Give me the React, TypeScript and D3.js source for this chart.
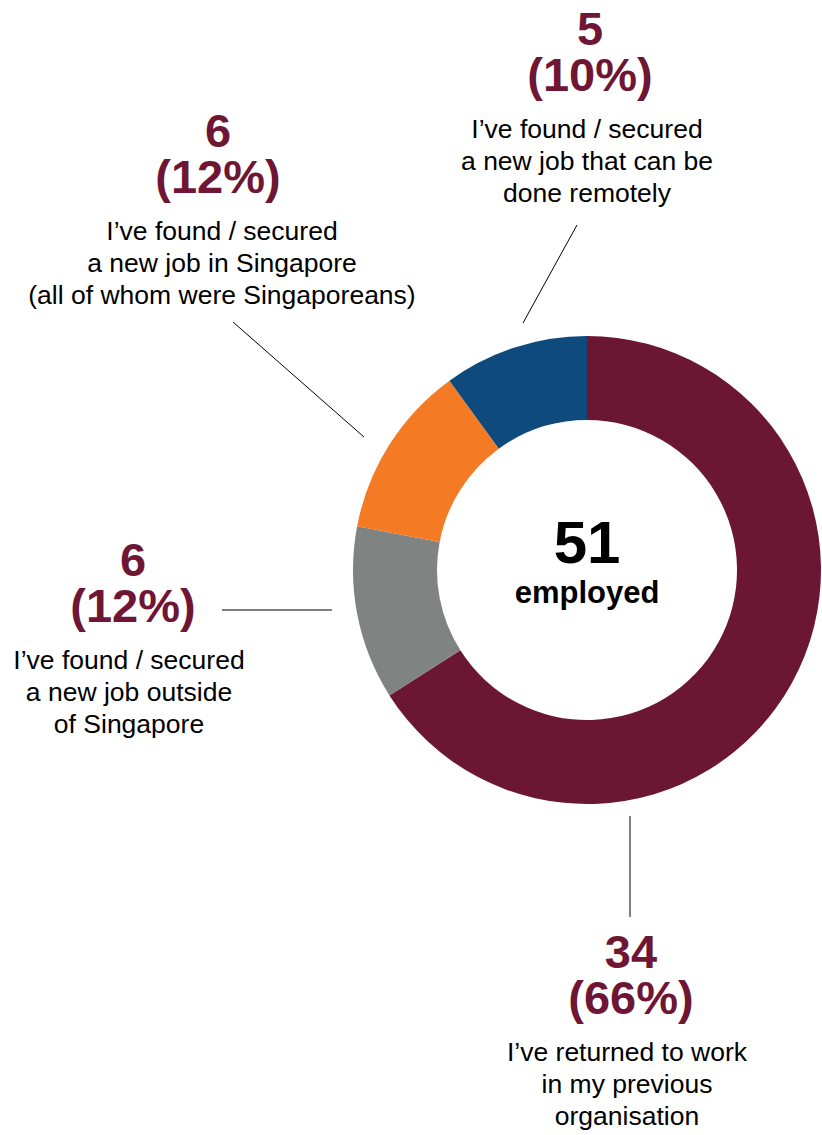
import React from "react";
import * as d3 from "d3";

const categories = [
  "I’ve returned to work in my previous organisation",
  "I’ve found / secured a new job outside of Singapore",
  "I’ve found / secured a new job in Singapore (all of whom were Singaporeans)",
  "I’ve found / secured a new job that can be done remotely",
];
const counts = [34, 6, 6, 5];
const percents = [66, 12, 12, 10];
const labelLines = [
  ["I’ve returned to work", "in my previous", "organisation"],
  ["I’ve found / secured", "a new job outside", "of Singapore"],
  ["I’ve found / secured", "a new job in Singapore", "(all of whom were Singaporeans)"],
  ["I’ve found / secured", "a new job that can be", "done remotely"],
];
const totalLabel = "51";
const totalSub = "employed";

const colors = ["#6B1733", "#7F8482", "#F47B24", "#0F4A7D"];
const numColor = "#6E1634";
const FONT = "'Liberation Sans', Arial, Helvetica, sans-serif";

// layout (positions of label blocks and leader lines)
const layout = [
  { nx: 631, tx: 627, y0: 968, line: [[630, 816], [630, 917]] },
  { nx: 133, tx: 129, y0: 576, line: [[222, 610], [332, 610]] },
  { nx: 218, tx: 222, y0: 147, line: [[233, 322], [364, 437]] },
  { nx: 590, tx: 587, y0: 45, line: [[577, 225], [523, 323]] },
];

export default function App() {
  const W = 822, H = 1135;
  const cx = 587, cy = 570, rOuter = 234, rInner = 150;
  const pie = d3.pie<number>().sort(null).value((d) => d);
  const arcs = pie(percents);
  const arc = d3.arc<d3.PieArcDatum<number>>().innerRadius(rInner).outerRadius(rOuter);

  return (
    <div style={{ position: "absolute", left: 0, top: 0 }}>
      <svg width={W} height={H} style={{ display: "block", background: "#fff" }} fontFamily={FONT}>
        <g transform={`translate(${cx},${cy})`}>
          {arcs.map((a, i) => (
            <path key={i} d={arc(a) || ""} fill={colors[i]}>
              <title>{categories[i]}</title>
            </path>
          ))}
          <text x={0} y={-7} textAnchor="middle" fontSize={60} fontWeight="bold" fill="#000">{totalLabel}</text>
          <text x={0} y={33} textAnchor="middle" fontSize={31} fontWeight="bold" fill="#000">{totalSub}</text>
        </g>
        {layout.map((L, i) => (
          <g key={i}>
            <line x1={L.line[0][0]} y1={L.line[0][1]} x2={L.line[1][0]} y2={L.line[1][1]} stroke="#000" strokeWidth={1} />
            <text x={L.nx} y={L.y0} textAnchor="middle" fontSize={47} fontWeight="bold" fill={numColor}>{counts[i]}</text>
            <text x={L.nx} y={L.y0 + 46} textAnchor="middle" fontSize={47} fontWeight="bold" fill={numColor}>{`(${percents[i]}%)`}</text>
            {labelLines[i].map((t, j) => (
              <text key={j} x={L.tx} y={L.y0 + 93 + j * 32} textAnchor="middle" fontSize={26.5} fill="#000">{t}</text>
            ))}
          </g>
        ))}
      </svg>
    </div>
  );
}
